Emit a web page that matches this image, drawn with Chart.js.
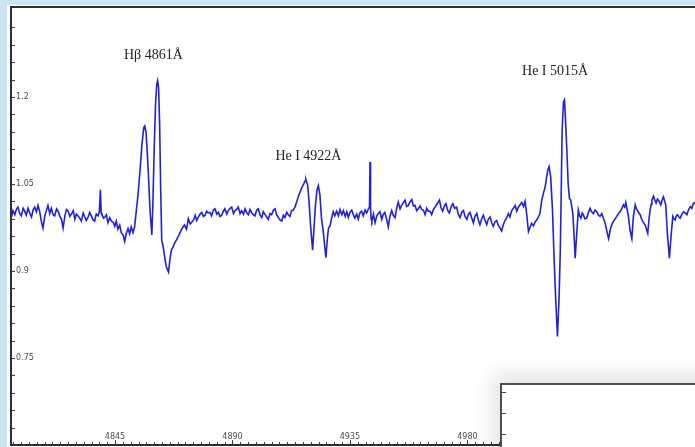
<!DOCTYPE html>
<html>
<head>
<meta charset="utf-8">
<script src="https://cdn.jsdelivr.net/npm/chart.js@4.4.1/dist/chart.umd.min.js"></script>
<style>
  html, body { margin: 0; padding: 0; background: #fff; overflow: hidden; }
  #wrap { position: relative; width: 695px; height: 447px; }
  #topband { position: absolute; left: 0; top: 0; width: 695px; height: 5px; background: #c9e4f3; }
  #leftband { position: absolute; left: 0; top: 0; width: 7px; height: 447px; background: #c9e4f3; }
  #spec { position: absolute; left: 0; top: 0; }
  #inset { position: absolute; left: 500px; top: 383px; width: 210px; height: 80px;
           border: 2px solid #4d4d4d; background: #fff;
           box-shadow: -2px -2px 20px 6px rgba(0,0,0,0.11); }
  #insetChart { position: absolute; left: 0; top: 0; }
</style>
</head>
<body>
<div id="wrap">
  <div id="topband"></div>
  <div id="leftband"></div>
  <canvas id="spec" width="695" height="447"></canvas>
  <div id="inset"><canvas id="insetChart" width="206" height="76"></canvas></div>
</div>
<script>
// wavelength (Angstrom) and normalised flux of the spectrum
const wavelength = [
 4805.2,4805.9,4806.6,4807.2,4807.8,4808.5,4809.1,4809.8,4810.4,4811.0,4811.7,4812.4,4813.0,4813.6,4814.2,4814.9,
 4815.5,4816.1,4816.8,4817.4,4818.1,4818.7,4819.3,4820.0,4820.6,4821.3,4821.9,4822.6,4823.2,4823.9,4824.5,4825.1,
 4825.8,4826.4,4827.1,4827.7,4828.4,4829.0,4829.6,4830.2,4830.8,4831.5,4832.1,4832.8,4833.4,4834.0,4834.7,4835.3,
 4835.9,4836.6,4837.2,4837.8,4838.5,4839.0,4839.4,4839.7,4840.0,4840.6,4841.1,4841.7,4842.3,4843.0,4843.6,4844.3,
 4844.9,4845.5,4846.1,4846.8,4847.4,4848.1,4848.7,4849.3,4850.0,4850.6,4851.2,4851.9,4852.5,
 4853.0,4853.8,4854.6,4855.3,4856.0,4856.4,4856.9,4857.3,4857.8,4858.4,4859.1,4859.5,4860.0,4860.5,4861.0,4861.3,
 4861.7,4862.1,4862.5,4862.9,4863.4,4863.9,4864.5,4865.1,4865.5,4866.0,4866.6,4867.2,4867.8,4868.5,4869.3,4870.0,
 4870.8,4871.6,4872.4,4873.1,4873.8,4874.4,4875.1,4875.7,4876.3,4876.9,4877.6,4878.2,4878.9,4879.5,4880.1,4880.7,
 4881.4,4882.0,4882.7,4883.3,4884.0,4884.6,4885.2,4885.9,4886.5,4887.1,4887.8,4888.4,4889.1,4889.7,4890.4,4891.0,
 4891.6,4892.2,4892.9,4893.5,4894.2,4894.8,4895.5,4896.1,4896.7,4897.4,4898.0,4898.6,4899.3,4899.9,4900.6,4901.2,
 4901.8,4902.5,4903.1,4903.7,4904.4,4905.0,4905.7,4906.3,4906.9,4907.6,4908.2,4908.9,4909.5,4910.1,4910.8,4911.4,
 4912.0,4912.7,4913.3,4914.0,4914.6,4915.2,4915.9,4916.5,4917.3,4917.8,4918.1,
 4918.8,4919.3,4919.9,4920.7,4921.2,4921.8,4922.4,4922.9,4923.5,4924.1,4924.8,4925.4,4925.8,4926.3,4926.8,4927.4,
 4928.0,4928.6,4929.2,4929.9,4930.6,4931.2,4931.9,4932.5,4933.2,4933.8,4934.4,4935.0,4935.7,4936.3,4936.9,4937.6,
 4938.2,4938.8,4939.5,4940.1,4940.8,4941.4,4942.0,4942.5,4942.7,4942.9,4943.1,4943.4,4944.0,4944.6,4945.3,4945.9,
 4946.5,4947.2,4947.8,4948.4,4949.1,4949.7,4950.3,4951.0,4951.6,4952.3,4952.9,4953.5,4954.2,4954.8,4955.5,4956.1,
 4956.7,4957.4,4958.0,4958.7,4959.3,4959.9,4960.6,4961.2,4961.9,4962.5,4963.1,4963.8,4964.4,4965.0,4965.7,4966.3,
 4967.0,4967.6,4968.3,4969.3,4969.9,4970.5,4971.2,4971.8,4972.5,4973.1,4973.8,4974.4,4975.1,4975.9,4976.5,4977.2,
 4977.8,4978.5,4979.1,4979.8,4980.4,4981.0,4981.7,4982.3,4982.9,4983.6,4984.2,4984.8,4985.5,4986.1,4986.8,4987.4,
 4988.0,4988.7,4989.3,4989.9,4990.6,4991.2,4991.9,4992.5,4993.1,4993.8,4994.4,4995.1,4995.7,4996.3,4997.0,4997.6,
 4998.3,4998.9,4999.5,5000.2,5000.8,5001.5,5002.1,5002.7,5003.4,5004.0,5004.6,5005.3,5006.0,5006.6,5007.2,5007.8,
 5008.5,5009.2,5009.8,5010.3,5010.8,5011.3,5011.9,5012.6,5013.2,5013.9,5014.5,5015.1,5015.6,5015.9,5016.3,5016.8,
 5017.2,5017.6,5018.1,5018.6,5019.1,5019.6,5020.0,5020.4,5020.9,5021.3,5021.9,5022.5,5023.0,5023.5,5024.0,5024.4,
 5025.0,5025.7,5026.3,5027.0,5027.6,5028.3,5028.9,5029.6,5030.2,5030.8,5031.5,5032.1,5032.6,5033.1,5033.6,5034.1,
 5034.6,5035.0,5035.5,5035.9,5036.6,5037.2,5037.9,5038.5,5039.2,5039.8,5040.3,5040.7,5041.2,5041.7,5042.3,5043.0,
 5043.6,5044.3,5044.7,5045.1,5045.7,5046.2,5046.7,5047.2,5047.7,5048.1,5048.6,5049.1,5049.6,5050.0,5050.4,5050.7,
 5051.3,5051.8,5052.3,5052.8,5053.2,5053.7,5054.1,5054.6,5055.1,5055.6,5056.0,5056.6,5057.4,5058.0,5058.7,5059.1,
 5059.6,5060.0,5060.5,5061.0,5061.5,5062.2,5062.8,5063.4,5064.1,5064.7,5065.4,5066.0,5066.6,5067.2
];
const flux = [
 0.991,1.004,0.997,1.006,1.010,0.999,0.995,1.008,1.003,0.996,1.008,0.999,0.993,1.005,1.010,1.002,
 1.013,1.003,0.985,0.974,0.995,1.004,1.013,0.999,1.008,0.997,0.995,1.007,1.003,0.994,0.989,0.974,
 0.995,1.006,1.003,0.994,0.999,1.004,0.989,0.998,0.995,0.991,0.986,1.000,0.993,0.987,0.993,1.001,
 0.995,0.988,0.986,0.998,0.995,1.002,1.040,1.000,0.997,0.991,0.993,0.997,0.983,0.992,0.986,0.984,
 0.977,0.986,0.972,0.979,0.966,0.962,0.951,0.964,0.973,0.964,0.976,0.966,0.976,
 0.997,1.031,1.074,1.117,1.147,1.150,1.138,1.109,1.066,1.005,0.962,1.014,1.109,1.186,1.222,1.228,
 1.216,1.152,1.040,0.953,0.943,0.928,0.910,0.902,0.898,0.919,0.936,0.941,0.948,0.953,0.960,0.967,
 0.974,0.979,0.972,0.990,0.981,0.984,0.988,0.996,0.987,0.993,0.998,1.001,0.994,0.996,1.003,1.000,
 1.001,0.995,1.005,1.007,0.998,1.001,0.994,0.996,1.003,1.007,0.998,1.004,1.008,1.010,0.999,1.004,
 1.006,1.010,0.999,1.004,0.998,1.007,1.000,0.997,1.006,1.000,0.997,0.995,1.005,1.007,0.996,0.992,
 1.002,0.997,0.993,0.989,0.999,0.997,1.005,1.007,0.997,0.992,0.988,0.986,0.996,0.992,1.001,0.997,
 0.994,1.004,1.005,1.011,1.019,1.028,1.036,1.043,1.050,1.055,1.058,
 1.048,1.022,0.979,0.936,0.971,1.014,1.040,1.047,1.031,0.991,0.967,0.940,0.923,0.953,0.974,0.978,
 0.991,1.002,0.995,1.003,0.995,1.006,0.997,1.004,0.994,1.002,0.992,1.001,1.005,0.997,0.991,0.998,
 0.989,1.000,1.003,0.995,1.005,1.000,1.006,1.010,1.088,1.010,0.990,0.986,0.998,0.983,0.995,0.999,
 1.002,0.989,0.998,1.001,0.988,0.976,0.994,1.004,0.996,0.992,1.008,1.019,1.007,1.013,1.018,1.022,
 1.011,1.013,1.019,1.023,1.012,1.013,1.004,1.007,1.012,1.006,1.005,0.997,1.008,1.003,1.003,0.997,
 1.006,1.010,1.015,1.022,1.009,1.003,1.012,1.016,1.004,1.000,1.011,1.016,1.008,1.010,0.998,0.992,
 1.001,1.004,0.994,0.989,0.998,1.001,0.991,0.983,0.994,0.999,0.988,0.980,0.990,0.996,0.987,0.980,
 0.989,0.993,0.983,0.977,0.985,0.987,0.978,0.974,0.969,0.980,0.987,0.992,0.999,0.993,1.004,1.008,
 1.013,1.003,1.010,1.014,1.018,1.011,1.020,0.999,0.968,0.975,0.982,0.978,0.985,0.988,0.993,0.999,
 1.022,1.035,1.045,1.060,1.074,1.080,1.063,1.005,0.925,0.844,0.787,0.850,0.936,1.022,1.143,1.191,
 1.195,1.160,1.109,1.051,1.025,1.022,1.010,0.999,0.959,0.922,0.965,1.005,0.995,0.991,1.000,0.997,
 0.990,0.991,1.000,1.008,1.002,0.999,1.005,1.002,0.996,0.994,0.999,0.991,0.985,0.976,0.965,0.956,
 0.968,0.976,0.982,0.985,0.990,0.994,0.999,1.002,1.008,1.014,1.010,1.018,1.006,0.994,0.971,0.956,
 0.994,1.014,1.008,1.005,1.000,0.997,0.990,0.985,0.982,0.979,0.972,0.965,0.990,1.005,1.015,1.022,
 1.029,1.022,1.017,1.024,1.022,1.018,1.014,1.022,1.028,1.020,1.014,0.965,0.922,0.959,0.994,0.990,
 0.988,0.995,0.997,0.993,0.991,0.998,1.002,1.000,0.997,1.005,1.011,1.008,1.017,1.017
];

// axis labels
const xTickValues = [4845, 4890, 4935, 4980];
const yTickValues = [0.75, 0.9, 1.05, 1.2];
const yTickLabels = ['0.75', '0.9', '1.05', '1.2'];

// line identifications and where they sit (wavelength, flux of the text baseline)
const lineLabels = ['Hβ 4861Å', 'He I 4922Å', 'He I 5015Å'];
const lineLabelWl = [4859.7, 4919.1, 5013.6];
const lineLabelFlux = [1.265, 1.091, 1.237];

const X_MIN = 4805.15, X_MAX = 5067.2;
const Y_MIN = 0.6, Y_MAX = 1.355;

const points = wavelength.map((w, i) => ({x: w, y: flux[i]}));

// frame, inward ticks, tick labels and line names
const frameAxes = {
  id: 'frameAxes',
  afterDraw(chart) {
    const {ctx, chartArea: a, scales: {x, y}} = chart;
    ctx.save();
    ctx.strokeStyle = '#2e2e2e';
    ctx.lineWidth = 2;
    ctx.beginPath();
    ctx.moveTo(a.right, a.top); ctx.lineTo(a.left, a.top);
    ctx.lineTo(a.left, a.bottom); ctx.lineTo(a.right, a.bottom);
    ctx.stroke();

    ctx.lineWidth = 1;
    ctx.strokeStyle = '#3a3a3a';
    ctx.beginPath();
    for (let k = 1; k < 25; k++) {
      const py = Math.round(y.getPixelForValue(0.6 + k * 0.03)) + 0.5;
      ctx.moveTo(a.left, py); ctx.lineTo(a.left + 4, py);
    }
    for (let w = 4806; w < X_MAX; w += 3) {
      const px = Math.round(x.getPixelForValue(w)) + 0.5;
      const len = xTickValues.includes(w) ? 5 : 3;
      ctx.moveTo(px, a.bottom); ctx.lineTo(px, a.bottom - len);
    }
    ctx.stroke();

    ctx.fillStyle = '#4a4a4a';
    ctx.font = '8px "DejaVu Sans"';
    ctx.textAlign = 'left';
    ctx.textBaseline = 'middle';
    yTickValues.forEach((v, i) => ctx.fillText(yTickLabels[i], a.left + 5, y.getPixelForValue(v)));
    ctx.textAlign = 'center';
    ctx.textBaseline = 'alphabetic';
    xTickValues.forEach(v => ctx.fillText(String(v), x.getPixelForValue(v), a.bottom - 6));

    ctx.fillStyle = '#222';
    ctx.font = '14px "Liberation Serif"';
    lineLabels.forEach((t, i) => ctx.fillText(t, x.getPixelForValue(lineLabelWl[i]), y.getPixelForValue(lineLabelFlux[i])));
    ctx.restore();
  }
};

new Chart(document.getElementById('spec'), {
  type: 'line',
  data: {
    datasets: [{
      data: points,
      borderColor: 'rgb(32,32,218)',
      borderWidth: 1.6,
      pointRadius: 0,
      tension: 0,
      fill: false
    }]
  },
  options: {
    responsive: false,
    animation: false,
    layout: {padding: {left: 11, top: 7, right: 0, bottom: 2}},
    plugins: {legend: {display: false}, tooltip: {enabled: false}},
    scales: {
      x: {type: 'linear', min: X_MIN, max: X_MAX, display: false},
      y: {min: Y_MIN, max: Y_MAX, display: false}
    }
  },
  plugins: [frameAxes]
});

// second panel below, only its left axis ticks show
const insetTicks = [0, 1, 2, 3];
const insetAxis = {
  id: 'insetAxis',
  afterDraw(chart) {
    const {ctx, chartArea: a, scales: {y}} = chart;
    ctx.save();
    ctx.strokeStyle = '#444';
    ctx.lineWidth = 1;
    ctx.beginPath();
    insetTicks.forEach(v => {
      const py = Math.round(y.getPixelForValue(v)) + 0.5;
      ctx.moveTo(a.left, py); ctx.lineTo(a.left + 4, py);
    });
    ctx.stroke();
    ctx.restore();
  }
};

new Chart(document.getElementById('insetChart'), {
  type: 'line',
  data: {datasets: []},
  options: {
    responsive: false,
    animation: false,
    layout: {padding: 0},
    plugins: {legend: {display: false}, tooltip: {enabled: false}},
    scales: {
      x: {type: 'linear', min: 0, max: 1, display: false},
      y: {min: -0.3, max: 3.35, display: false}
    }
  },
  plugins: [insetAxis]
});
</script>
</body>
</html>
